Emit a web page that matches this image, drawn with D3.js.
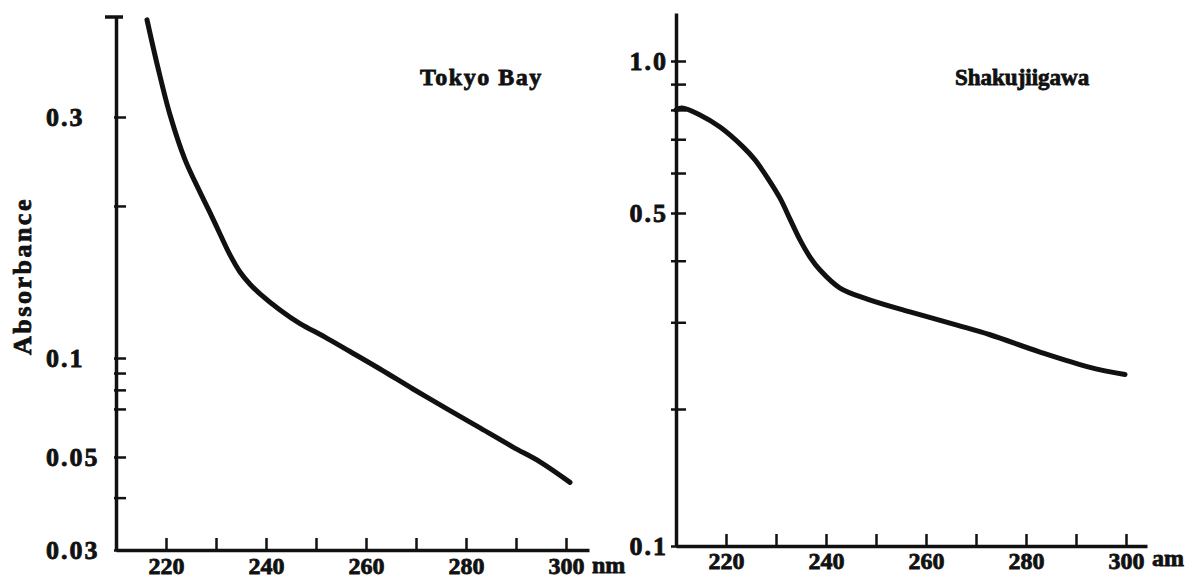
<!DOCTYPE html>
<html>
<head>
<meta charset="utf-8">
<script src="https://cdn.jsdelivr.net/npm/d3@7"></script>
<style>
  body { margin: 0; background: #fff; }
  svg { display: block; }
  text { font-family: "Liberation Serif", serif; font-weight: bold; fill: #111; stroke: #111; stroke-width: 0.8px; }
  .domain { stroke: #111; stroke-width: 3.5; }
  .tick line { stroke: #111; stroke-width: 2.5; }
</style>
</head>
<body>
<svg id="chart" width="1196" height="579"></svg>
<script>
// Tokyo Bay spectrum
const tokyoNm  = [216.2, 218.4, 220.8, 223.8, 226.8, 228.8, 230.8, 232.8, 234.8, 236.8, 238.8, 242.8, 246.8, 251.8, 256.8, 262.8, 269.4, 276.2, 282.8, 289.4, 294.8, 300.8];
const tokyoAbs = [0.464, 0.374, 0.303, 0.247, 0.213, 0.194, 0.176, 0.160, 0.148, 0.140, 0.134, 0.1245, 0.117, 0.110, 0.103, 0.0926, 0.0805, 0.0700, 0.0613, 0.0536, 0.0487, 0.0435];
const tokyoYTicks  = [0.03, 0.04, 0.05, 0.07, 0.08, 0.09, 0.1, 0.2, 0.3];
const tokyoYLabels = ["0.03", "0.05", "0.1", "0.3"];

// Shakujiigawa spectrum
const shakuNm  = [210, 211.2, 214.8, 218.8, 223.4, 225.8, 228.2, 230.8, 232.8, 234.8, 236.8, 238.8, 242.8, 248.4, 256.8, 266.2, 272.8, 282.8, 292.8, 299.8];
const shakuAbs = [0.800, 0.807, 0.782, 0.740, 0.676, 0.637, 0.589, 0.535, 0.486, 0.441, 0.407, 0.383, 0.352, 0.334, 0.315, 0.296, 0.283, 0.261, 0.243, 0.235];
const shakuYTicks  = [0.1, 0.2, 0.3, 0.4, 0.5, 0.6, 0.7, 0.8, 0.9, 1.0];
const shakuYLabels = ["0.1", "0.5", "1.0"];

const xTicks  = [220, 230, 240, 250, 260, 270, 280, 290, 300];
const xLabels = [220, 240, 260, 280, 300];

const svg = d3.select("#chart");

function drawPanel(cfg) {
    const g = svg.append("g");
    const x = d3.scaleLinear().domain(cfg.xDomain).range(cfg.xRange);
    // printed log axis is not perfectly even, so calibrate it piecewise
    const y = d3.scaleLog().domain(cfg.yDomain).range(cfg.yRange);
    const x0 = cfg.xRange[0];
    const base = cfg.yRange[0];

    const labelOf = new Map(cfg.yLabels.map(s => [+s, s]));

    const gy = g.append("g")
        .attr("transform", `translate(${x0},0)`)
        .call(d3.axisLeft(y)
            .tickValues(cfg.yTicks)
            .tickSize(-10)
            .tickSizeOuter(0)
            .tickFormat(d => labelOf.get(d) || ""));

    gy.selectAll(".tick text")
        .attr("x", cfg.labelX)
        .attr("text-anchor", cfg.labelAnchor)
        .style("font-size", "26px")
        .style("letter-spacing", "2px");
    gy.selectAll(".tick line").attr("x1", cfg.tickCross);

    const gx = g.append("g")
        .attr("transform", `translate(0,${base})`)
        .call(d3.axisBottom(x)
            .tickValues(xTicks)
            .tickSize(-12)
            .tickSizeOuter(0)
            .tickPadding(cfg.xPad)
            .tickFormat(d => xLabels.includes(d) ? d : ""));

    gx.selectAll(".tick text").style("font-size", "24px");
    g.selectAll("path.domain").attr("fill", "none");

    if (cfg.cap) {
        const yTop = y(cfg.yDomain[cfg.yDomain.length - 1]);
        g.append("line")
            .attr("x1", x0 - 11).attr("x2", x0 + 7)
            .attr("y1", yTop).attr("y2", yTop)
            .attr("stroke", "#111").attr("stroke-width", 3.5);
    }

    const pts = cfg.nm.map((v, i) => [v, cfg.abs[i]]);
    g.append("path")
        .datum(pts)
        .attr("fill", "none")
        .attr("stroke", "#111")
        .attr("stroke-width", 5)
        .attr("stroke-linecap", "round")
        .attr("d", d3.line()
            .x(d => x(d[0]))
            .y(d => y(d[1]))
            .curve(d3.curveCatmullRom.alpha(0.5)));

    g.append("text")
        .attr("x", x(300) + 26)
        .attr("y", base + cfg.unitDy)
        .style("font-size", "24px")
        .text(cfg.unit);

    g.append("text")
        .attr("x", cfg.titleX)
        .attr("y", 85)
        .style("font-size", cfg.titleSize + "px")
        .style("letter-spacing", cfg.titleSpacing + "px")
        .text(cfg.title);
}

drawPanel({
    nm: tokyoNm, abs: tokyoAbs,
    xDomain: [210, 304.6], xRange: [116, 589],
    yDomain: [0.03, 0.05, 0.1, 0.3, 0.47], yRange: [550, 457, 358, 117, 17],
    yTicks: tokyoYTicks, yLabels: tokyoYLabels,
    tickCross: -2, labelX: -70, labelAnchor: "start",
    xPad: 7, unit: "nm", unitDy: 23,
    cap: true, title: "Tokyo Bay", titleX: 420, titleSize: 24, titleSpacing: 1.5
});

drawPanel({
    nm: shakuNm, abs: shakuAbs,
    xDomain: [210, 304.2], xRange: [676, 1147],
    yDomain: [0.1, 0.2, 0.5, 1.0, 1.25], yRange: [546, 409, 213, 61, 13],
    yTicks: shakuYTicks, yLabels: shakuYLabels,
    tickCross: -5, labelX: -8, labelAnchor: "end",
    xPad: 6, unit: "am", unitDy: 20,
    cap: false, title: "Shakujiigawa", titleX: 955, titleSize: 23, titleSpacing: 0
});

svg.append("text")
    .attr("transform", "translate(31,276) rotate(-90)")
    .attr("text-anchor", "middle")
    .style("font-size", "26px")
    .style("letter-spacing", "2.5px")
    .text("Absorbance");
</script>
</body>
</html>
